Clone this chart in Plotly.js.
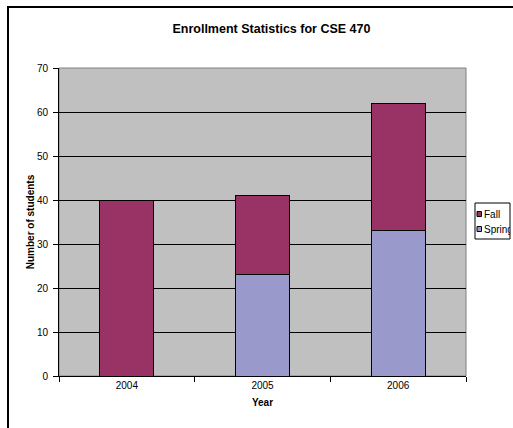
<!DOCTYPE html>
<html>
<head>
<meta charset="utf-8">
<script src="https://cdn.plot.ly/plotly-3.0.1.min.js"></script>
<style>
html,body{margin:0;padding:0;background:#fff;overflow:hidden;}
#wrap{position:relative;width:513px;height:428px;overflow:hidden;}
#chart{width:513px;height:428px;}
#frame{position:absolute;left:7px;top:6px;width:600px;height:600px;border:2px solid #000;pointer-events:none;}
</style>
</head>
<body>
<div id="wrap"><div id="chart"></div><div id="frame"></div></div>
<script>
const years = ['2004', '2005', '2006'];
const springValues = [0, 23, 33];
const fallValues = [40, 18, 29];
const seriesNames = ['Spring', 'Fall'];
const seriesColors = ['#9999CC', '#993366'];
const yTicks = [0, 10, 20, 30, 40, 50, 60, 70];

const W = 513, H = 428;
const M = {l: 59, r: 47, t: 68, b: 52};
const pw = W - M.l - M.r, ph = H - M.t - M.b;
const px = x => (x - M.l) / pw;
const py = y => (H - M.b - y) / ph;

const font = 'Liberation Sans, Arial, sans-serif';

const traces = [
  {
    type: 'bar', name: seriesNames[0], x: years, y: springValues,
    marker: {color: seriesColors[0], line: {color: '#000', width: 1}}
  },
  {
    type: 'bar', name: seriesNames[1], x: years, y: fallValues,
    marker: {color: seriesColors[1], line: {color: '#000', width: 1}}
  }
];

// Legend (Fall on top, Spring below), drawn as shapes + real-text annotations
const legendRows = [
  {name: seriesNames[1], color: seriesColors[1], cy: 214},
  {name: seriesNames[0], color: seriesColors[0], cy: 229}
];
const legendShapes = [
  {type: 'rect', xref: 'paper', yref: 'paper',
   x0: px(475), x1: px(510), y0: py(203), y1: py(239),
   line: {color: '#000', width: 1}, fillcolor: '#fff'}
];
const legendAnn = [];
legendRows.forEach(r => {
  legendShapes.push({type: 'rect', xref: 'paper', yref: 'paper',
    x0: px(477), x1: px(481.5), y0: py(r.cy - 2.5), y1: py(r.cy + 2.5),
    line: {color: '#000', width: 1}, fillcolor: r.color});
  legendAnn.push({xref: 'paper', yref: 'paper', x: px(482.5), y: py(r.cy),
    xanchor: 'left', yanchor: 'middle', align: 'left', showarrow: false,
    text: r.name, width: 26, borderpad: 0,
    font: {family: font, size: 10, color: '#000'}});
});

const layout = {
  width: W, height: H,
  margin: M,
  paper_bgcolor: '#fff',
  plot_bgcolor: '#C0C0C0',
  barmode: 'stack',
  bargap: 0.6,
  showlegend: false,
  font: {family: font, size: 10, color: '#000'},
  title: {
    text: '<b>Enrollment Statistics for CSE 470</b>',
    font: {family: font, size: 12.5, color: '#000'},
    x: 0.522, xanchor: 'center', xref: 'paper',
    y: 1 - 29 / H, yref: 'container', yanchor: 'middle'
  },
  xaxis: {
    type: 'category',
    tickson: 'boundaries',
    ticks: 'outside', ticklen: 5, tickcolor: '#000',
    showline: true, linecolor: '#000', linewidth: 1,
    showgrid: false,
    tickfont: {family: font, size: 10, color: '#000'},
    title: {text: '<b>Year</b>', font: {family: font, size: 10, color: '#000'}, standoff: 8}
  },
  yaxis: {
    range: [0, 70],
    tickvals: yTicks,
    ticktext: yTicks.map(String),
    ticks: 'outside', ticklen: 5, tickcolor: '#000',
    ticklabelstandoff: 3,
    showline: true, linecolor: '#000', linewidth: 1,
    showgrid: true, gridcolor: '#000', gridwidth: 1,
    zeroline: false,
    tickfont: {family: font, size: 10, color: '#000'},
    title: {text: '<b>Number of students</b>', font: {family: font, size: 10, color: '#000'}, standoff: 0}
  },
  annotations: legendAnn,
  shapes: [
    {type: 'rect', xref: 'paper', yref: 'paper', x0: 0, x1: 1, y0: 0, y1: 1,
     line: {color: '#808080', width: 1}, layer: 'below'}
  ].concat(legendShapes)
};

Plotly.newPlot('chart', traces, layout, {staticPlot: true, displayModeBar: false});
</script>
</body>
</html>
